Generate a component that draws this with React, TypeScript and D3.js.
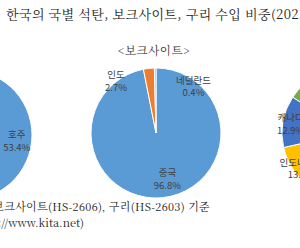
import * as d3 from 'd3';

type Slice = { name: string; value: number };

// 석탄 (coal) — only the 호주 slice is in view
const coalNames = ['호주', '러시아', '인도네시아', '캐나다', '기타'];
const coalValues = [53.4, 17.8, 14.1, 8.9, 5.8];

// 보크사이트 (bauxite)
const bauxiteNames = ['중국', '인도', '네덜란드'];
const bauxiteValues = [96.8, 2.7, 0.4];

// 구리 (copper)
const copperNames = ['칠레', '페루', '호주', '인도네시아', '캐나다', '기타'];
const copperValues = [31.5, 16.0, 10.5, 13.4, 12.9, 15.7];

const palette = ['#5B9BD5', '#ED7D31', '#A5A5A5', '#FFC000', '#4472C4', '#70AD47'];

const title = '한국의 국별 석탄, 보크사이트, 구리 수입 비중(2022)';
const subTitle = '<보크사이트>';
const noteLine1 = '주: 석탄(HS-2701), 보크사이트(HS-2606), 구리(HS-2603) 기준';
const noteLine2 = '자료: 한국무역협회(https://www.kita.net)';

const toSlices = (names: string[], values: number[]): Slice[] =>
  names.map((name, i) => ({ name, value: values[i] }));

const W = 300;
const H = 248;
const R = 65;

type PieProps = {
  data: Slice[];
  cx: number;
  cy: number;
  labelRatio: number;
  nudge?: Record<string, [number, number]>;
};

function Pie({ data, cx, cy, labelRatio, nudge = {} }: PieProps) {
  const pie = d3.pie<Slice>().sort(null).value((d) => d.value);
  const arc = d3.arc<d3.PieArcDatum<Slice>>().innerRadius(0).outerRadius(R);
  const labelArc = d3
    .arc<d3.PieArcDatum<Slice>>()
    .innerRadius(R * labelRatio)
    .outerRadius(R * labelRatio);
  const arcs = pie(data);

  return (
    <g transform={`translate(${cx},${cy})`}>
      {arcs.map((a, i) => (
        <path key={a.data.name} d={arc(a) ?? ''} fill={palette[i]} stroke="#fff" strokeWidth={1} />
      ))}
      {arcs.map((a) => {
        const [x0, y0] = labelArc.centroid(a);
        const [nx, ny] = nudge[a.data.name] ?? [0, 0];
        const x = x0 + nx;
        const y = y0 + ny;
        // skip labels that sit completely outside the frame
        if (cx + x < -15 || cx + x > W + 15) return null;
        return (
          <text
            key={a.data.name}
            x={x}
            y={y}
            textAnchor="middle"
            fontSize={9.5}
            fill="#404040"
            fontFamily="'Noto Sans CJK KR', sans-serif"
          >
            <tspan x={x} dy="-0.2em">
              {a.data.name}
            </tspan>
            <tspan x={x} dy="1.35em">
              {a.value.toFixed(1)}%
            </tspan>
          </text>
        );
      })}
    </g>
  );
}

export default function App() {
  const serif = "'Noto Serif CJK KR', 'Liberation Serif', serif";

  return (
    <svg width={W} height={H} style={{ position: 'absolute', left: 0, top: 0, background: '#fff' }}>
      <rect width={W} height={H} fill="#fff" />
      <text x={6} y={19} fontSize={13} letterSpacing={0.4} fill="#222" fontFamily={serif}>
        {title}
      </text>
      <text
        x={154}
        y={55}
        fontSize={11.5}
        letterSpacing={0.5}
        fill="#333"
        textAnchor="middle"
        fontFamily={serif}
      >
        {subTitle}
      </text>

      <Pie data={toSlices(coalNames, coalValues)} cx={-33} cy={135} labelRatio={0.77} />
      <Pie
        data={toSlices(bauxiteNames, bauxiteValues)}
        cx={156}
        cy={133}
        labelRatio={0.7}
        nudge={{ 인도: [-35, -8], 네덜란드: [38, -2], 중국: [7, 0] }}
      />
      <Pie data={toSlices(copperNames, copperValues)} cx={347} cy={133} labelRatio={0.88} />

      <text x={210} y={211} fontSize={11} letterSpacing={0.3} fill="#222" textAnchor="end" fontFamily={serif}>
        {noteLine1}
      </text>
      <text x={84} y={227} fontSize={11} fill="#222" textAnchor="end" fontFamily={serif}>
        {noteLine2}
      </text>
    </svg>
  );
}
